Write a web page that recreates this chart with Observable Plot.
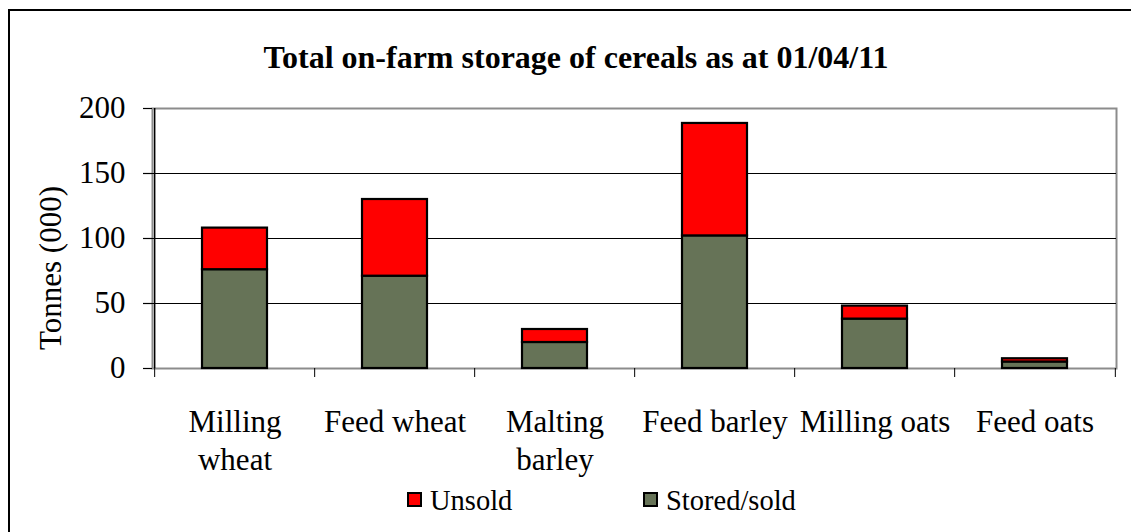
<!DOCTYPE html>
<html>
<head>
<meta charset="utf-8">
<script src="https://cdn.jsdelivr.net/npm/d3@7"></script>
<script src="https://cdn.jsdelivr.net/npm/@observablehq/plot@0.6"></script>
<style>
  html, body { margin: 0; padding: 0; width: 1131px; height: 532px; overflow: hidden; background: #fff; }
  body { position: relative; font-family: "Liberation Serif", "Times New Roman", serif; color: #000; }
  #border2 { position: absolute; left: 8px; top: 9px; width: 1123px; height: 2px; background: #000; }
  #border3 { position: absolute; left: 8px; top: 9px; width: 2px; height: 523px; background: #000; }
  #title { position: absolute; left: 21px; width: 1110px; top: 38px; text-align: center; font-weight: bold; font-size: 32px; line-height: 38px; white-space: nowrap; }
  #ylabel { position: absolute; left: 50px; top: 268px; transform: translate(-50%, -50%) rotate(-90deg); font-size: 31px; white-space: nowrap; line-height: 1; }
  #chart { position: absolute; left: 0; top: 0; width: 1131px; height: 532px; overflow: hidden; }
  .leg { position: absolute; top: 486px; font-size: 28.5px; line-height: 30px; white-space: nowrap; }
  .sw { position: absolute; width: 15px; height: 15px; border: 2px solid #000; box-sizing: border-box; }
</style>
</head>
<body>
<div id="border2"></div>
<div id="border3"></div>
<div id="title">Total on-farm storage of cereals as at 01/04/11</div>
<div id="chart"></div>
<div id="ylabel">Tonnes (000)</div>
<div id="legend"></div>
<script>
// ---- data ----
const categories = ["Milling wheat", "Feed wheat", "Malting barley", "Feed barley", "Milling oats", "Feed oats"];
const tickLabels = ["Milling\nwheat", "Feed wheat", "Malting\nbarley", "Feed barley", "Milling oats", "Feed oats"];
const storedSold = [76, 71, 20, 102, 38, 5];
const unsold = [32, 59, 10, 86.5, 10, 2.5];
const seriesNames = ["Stored/sold", "Unsold"];
const seriesColors = ["#667357", "#ff0000"];
const yTicks = [0, 50, 100, 150, 200];

const rows = [];
categories.forEach((c, i) => {
  rows.push({cat: c, series: seriesNames[0], value: storedSold[i]});
  rows.push({cat: c, series: seriesNames[1], value: unsold[i]});
});

const W = 1131, H = 532;
const mL = 152, mR = 15, mT = 108, mB = 164;
const step = (W - mL - mR) / categories.length;
const labelMap = new Map(categories.map((c, i) => [c, tickLabels[i]]));

const plot = Plot.plot({
  width: W,
  height: H,
  marginLeft: mL,
  marginRight: mR,
  marginTop: mT,
  marginBottom: mB,
  style: {fontFamily: "'Liberation Serif', 'Times New Roman', serif", fontSize: "31px", color: "#000", background: "transparent", display: "block"},
  x: {domain: categories, paddingInner: 0.595, paddingOuter: 0.2975, axis: null, label: null},
  y: {domain: [0, 200], axis: null, label: null},
  color: {domain: seriesNames, range: seriesColors},
  marks: [
    Plot.frame({stroke: "#8c8c8c", strokeWidth: 2}),
    Plot.ruleY([50, 100, 150], {stroke: "#000", strokeWidth: 1}),
    Plot.barY(rows, Plot.stackY({order: seriesNames}, {x: "cat", y: "value", z: "series", fill: "series", stroke: "#000", strokeWidth: 2.2})),
    Plot.ruleX([categories[0]], {x: d => d, dx: -step / 2, y1: 0, y2: 200, stroke: "#000", strokeWidth: 1.5}),
    Plot.axisY(yTicks, {anchor: "left", label: null, tickSize: 9, tickPadding: 18, fontSize: 31, stroke: "#000", strokeWidth: 1.2}),
    Plot.axisX(categories, {anchor: "bottom", label: null, text: null, tickSize: 9, dx: -step / 2, stroke: "#000"}),
    Plot.axisX([categories[categories.length - 1]], {anchor: "bottom", label: null, text: null, tickSize: 9, dx: step / 2, stroke: "#000"}),
    Plot.axisX(categories, {anchor: "bottom", label: null, tickSize: 0, tickPadding: 36, fontSize: 31, lineHeight: 1.23, tickFormat: d => labelMap.get(d)})
  ]
});
document.getElementById("chart").appendChild(plot);

// ---- legend ----
const legend = document.getElementById("legend");
const legendItems = [
  {name: seriesNames[1], color: seriesColors[1], sx: 407, tx: 430},
  {name: seriesNames[0], color: seriesColors[0], sx: 643, tx: 666}
];
legendItems.forEach(it => {
  const sw = document.createElement("div");
  sw.className = "sw";
  sw.style.left = it.sx + "px";
  sw.style.top = "492px";
  sw.style.background = it.color;
  legend.appendChild(sw);
  const t = document.createElement("div");
  t.className = "leg";
  t.style.left = it.tx + "px";
  t.textContent = it.name;
  legend.appendChild(t);
});
</script>
</body>
</html>
